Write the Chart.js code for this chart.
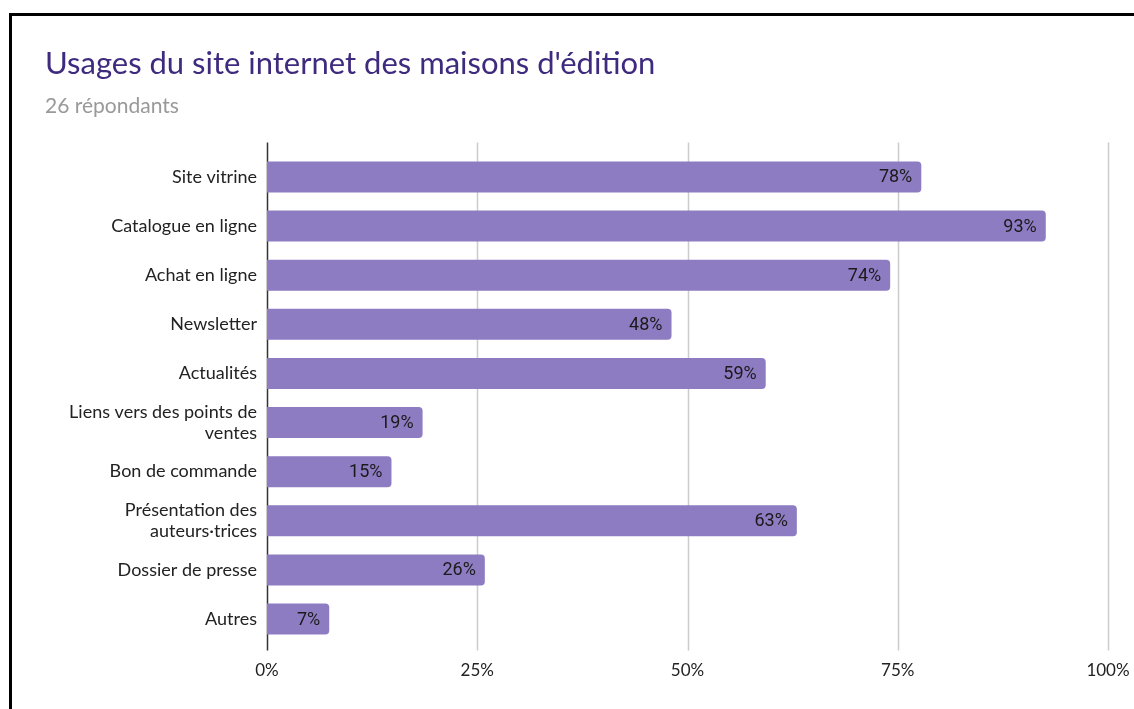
<!DOCTYPE html>
<html>
<head>
<meta charset="utf-8">
<script src="https://cdn.jsdelivr.net/npm/chart.js@4"></script>
<style>
  html, body { margin: 0; padding: 0; background: #fff; overflow: hidden; }
  #wrap { position: relative; width: 1134px; height: 709px; }
  #frame { position: absolute; left: 9px; top: 13px; width: 1200px; height: 800px;
           border: 3px solid #000; pointer-events: none; }
</style>
</head>
<body>
<div id="wrap">
  <canvas id="usageChart" width="1134" height="709"></canvas>
  <div id="frame"></div>
</div>
<script>
const categories = [
  'Site vitrine',
  'Catalogue en ligne',
  'Achat en ligne',
  'Newsletter',
  'Actualités',
  ['Liens vers des points de', 'ventes'],
  'Bon de commande',
  ['Présentation des', 'auteurs·trices'],
  'Dossier de presse',
  'Autres'
];
const shares = [77.8, 92.6, 74.1, 48.1, 59.3, 18.5, 14.8, 63.0, 25.9, 7.4];
const shareLabels = ['78%', '93%', '74%', '48%', '59%', '19%', '15%', '63%', '26%', '7%'];
const xTicks = [0, 25, 50, 75, 100];

// vertical gridlines slightly taller than the plot area, like the original
const gridPlugin = {
  id: 'grid',
  beforeDatasetsDraw(chart) {
    const { ctx, chartArea, scales } = chart;
    ctx.save();
    xTicks.forEach((v, i) => {
      const x = Math.round(scales.x.getPixelForValue(v)) + 0.5;
      ctx.beginPath();
      ctx.strokeStyle = i === 0 ? '#333' : '#cccccc';
      ctx.lineWidth = 1.5;
      ctx.moveTo(x, chartArea.top - 10);
      ctx.lineTo(x, chartArea.bottom + 7);
      ctx.stroke();
    });
    ctx.restore();
  }
};

// value labels at the inner end of each bar
const labelPlugin = {
  id: 'barLabels',
  afterDatasetsDraw(chart) {
    const { ctx } = chart;
    const meta = chart.getDatasetMeta(0);
    ctx.save();
    ctx.font = '18px Roboto';
    ctx.fillStyle = '#1a1a1a';
    ctx.textAlign = 'right';
    ctx.textBaseline = 'middle';
    meta.data.forEach((bar, i) => {
      ctx.fillText(shareLabels[i], bar.x - 9, bar.y + 1);
    });
    ctx.restore();
  }
};

const data = {
  labels: categories,
  datasets: [
    {
      label: 'Usages',
      data: shares,
      backgroundColor: '#8e7cc3',
      borderRadius: 4,
      borderSkipped: 'start',
      barPercentage: 0.63,
      categoryPercentage: 1.0,
    },
  ],
};

const config = {
  type: 'bar',
  data: data,
  options: {
    indexAxis: 'y',
    responsive: false,
    animation: false,
    layout: {
      padding: { left: 45, right: 0, top: 0, bottom: 11 },
    },
    plugins: {
      legend: { display: false },
      tooltip: { enabled: false },
      title: {
        display: true,
        text: "Usages du site internet des maisons d'édition",
        align: 'start',
        color: '#3f2b7e',
        font: { family: 'Lato', size: 31, weight: 'normal', lineHeight: 1.2 },
        padding: { top: 45, bottom: 5 },
      },
      subtitle: {
        display: true,
        text: '26 répondants',
        align: 'start',
        color: '#999',
        font: { family: 'Lato', size: 21, lineHeight: 1.2 },
        padding: { top: 6, bottom: 34 },
      },
    },
    scales: {
      x: {
        min: 0,
        max: 100,
        afterBuildTicks(scale) {
          scale.ticks = xTicks.map(v => ({ value: v }));
        },
        afterFit(scale) { scale.paddingRight = 26; },
        grid: { display: false, drawTicks: false },
        border: { display: false },
        ticks: {
          padding: 17,
          color: '#222',
          font: { family: 'Lato', size: 17 },
          callback: v => v + '%',
        },
      },
      y: {
        grid: { display: false, drawTicks: false },
        border: { display: false },
        afterFit(scale) { scale.width = 222; },
        ticks: {
          padding: 10,
          color: '#222',
          font: { family: 'Lato', size: 18, lineHeight: 1.2 },
        },
      },
    },
  },
  plugins: [gridPlugin, labelPlugin],
};

const usageChart = new Chart(document.getElementById('usageChart'), config);
</script>
</body>
</html>
